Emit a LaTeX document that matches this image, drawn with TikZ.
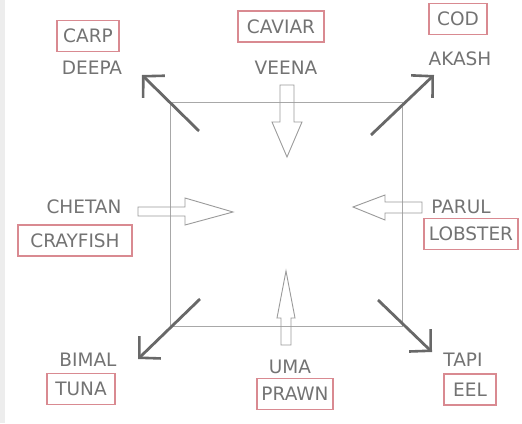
\documentclass[tikz,border=0pt]{standalone}
\usepackage{fontspec}
\setmainfont{DejaVu Sans}
\usetikzlibrary{arrows.meta}
\definecolor{txt}{HTML}{737373}
\definecolor{boxc}{HTML}{D98A91}
\definecolor{sq}{HTML}{A8A8A8}
\definecolor{darr}{HTML}{686868}
\definecolor{harr}{HTML}{9A9A9A}
\definecolor{strip}{HTML}{EDEDED}
\tikzset{
  lbl/.style={text=txt, font=\fontsize{18.5}{19}\selectfont, inner sep=0pt},
  fishbox/.style={lbl, draw=boxc, line width=1.6pt, minimum width=#1, minimum height=31pt},
  diag/.style={draw=darr, line width=2.8pt, -{Straight Barb[length=15pt, width=31pt, line width=2.6pt]}},
  hollow/.style={draw=harr, line width=0.9pt, line join=miter},
}
\begin{document}
\begin{tikzpicture}[x=1pt, y=-1pt]
\useasboundingbox (0,0) rectangle (522,423);
\fill[white] (0,0) rectangle (522,423);
\fill[strip] (0,0) rectangle (5,423);

% square
\draw[sq, line width=1pt] (170,102) rectangle (402,326);

% fish boxes
\node[fishbox=62pt]  (carp)     at (88,36)    {CARP};
\node[fishbox=86pt]  (caviar)   at (281,26.5) {CAVIAR};
\node[fishbox=58pt]  (cod)      at (458,19)   {COD};
\node[fishbox=114pt] (crayfish) at (75,240.5) {CRAYFISH};
\node[fishbox=94pt]  (lobster)  at (471,234)  {LOBSTER};
\node[fishbox=68pt]  (tuna)     at (81,389)   {TUNA};
\node[fishbox=76pt]  (prawn)    at (295,394)  {PRAWN};
\node[fishbox=52pt]  (eel)      at (470,389.5){EEL};

% names
\node[lbl] (deepa)  at (92,68)  {DEEPA};
\node[lbl] (veena)  at (286,68) {VEENA};
\node[lbl] (akash)  at (460,59) {AKASH};
\node[lbl] (chetan) at (84,207) {CHETAN};
\node[lbl] (parul)  at (461,207){PARUL};
\node[lbl] (bimal)  at (88,360) {BIMAL};
\node[lbl] (uma)    at (290,367){UMA};
\node[lbl] (tapi)   at (463,360){TAPI};

% diagonal arrows
\coordinate (dA) at (199,131); \coordinate (dB) at (142,75);
\coordinate (aA) at (371,135); \coordinate (aB) at (434,75);
\coordinate (bA) at (200,299); \coordinate (bB) at (138,359);
\coordinate (tA) at (378,300); \coordinate (tB) at (432,352);
\draw[diag] (dA) -- (dB);
\draw[diag] (aA) -- (aB);
\draw[diag] (bA) -- (bB);
\draw[diag] (tA) -- (tB);

% hollow arrows
\draw[hollow] (280,85) -- (294,85) -- (294,122) -- (302,122) -- (287,157) -- (272,122) -- (280,122) -- cycle;
\draw[hollow] (281,345) -- (291,345) -- (291,318) -- (295,318) -- (286,271) -- (277,318) -- (281,318) -- cycle;
\draw[hollow] (138,207) -- (185,207) -- (185,198) -- (233,212) -- (185,225) -- (185,216) -- (138,216) -- cycle;
\draw[hollow] (422,202) -- (385,202) -- (385,195) -- (353,207) -- (385,220) -- (385,213) -- (422,213) -- cycle;
\end{tikzpicture}
\end{document}
